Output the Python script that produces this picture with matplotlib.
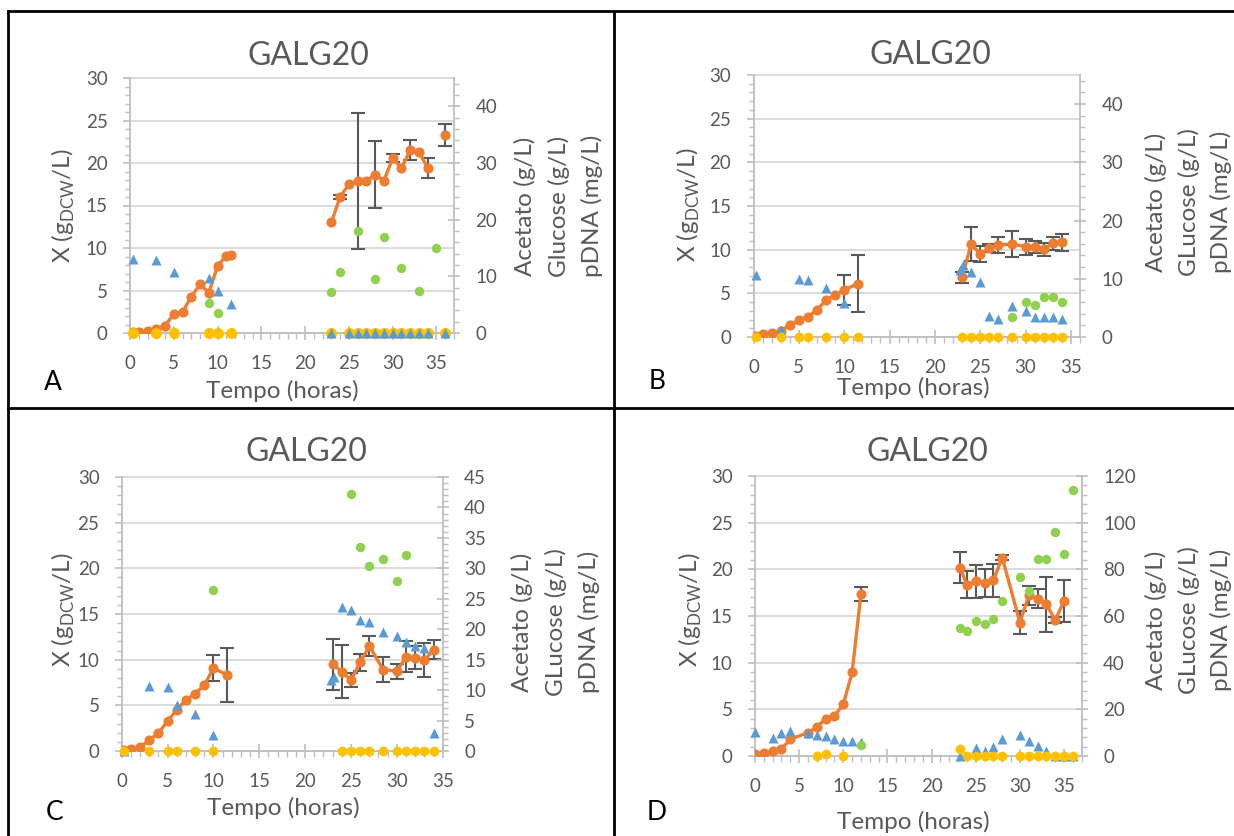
import matplotlib
matplotlib.use("Agg")
import matplotlib.pyplot as plt
import numpy as np
from matplotlib.ticker import MultipleLocator
from matplotlib.lines import Line2D

plt.rcParams['font.family'] = ['Lato', 'DejaVu Sans']
plt.rcParams['mathtext.fontset'] = 'custom'
plt.rcParams['mathtext.rm'] = 'Lato'

nan = np.nan
# ---------------- Panel A ----------------
A_t_X = [0.3, 1, 2, 3, 4, 5, 6, 7, 8, 9, 10, 11, 11.5, nan,
         23, 24, 25, 26, 27, 28, 29, 30, 31, 32, 33, 34, nan, 36]
A_X = [0.1, 0.15, 0.27, 0.5, 0.86, 2.24, 2.47, 4.27, 5.72, 4.75, 7.88, 9.1, 9.18, nan,
       13.02, 16.04, 17.49, 17.88, 17.92, 18.63, 17.92, 20.59, 19.37, 21.53, 21.29, 19.41, nan, 23.33]
A_X_err = [0, 0, 0, 0, 0, 0, 0, 0, 0, 0, 0, 0, 0, 0,
           0, 0.25, 0, 8.0, 0, 3.9, 0, 0.45, 0, 1.2, 0, 1.2, 0, 1.3]
A_t_glc = [0.3, 3, 5, 9, 10, 11.5, 23, 25, 26, 27, 28, 29, 30, 31, 32, 33, 34, 36]
A_glc = [13.06, 12.88, 10.76, 9.64, 7.47, 5.06, 0, 0, 0, 0, 0, 0, 0, 0, 0, 0, 0, 0]
A_t_pdna = [9, 10, 23, 24, 26, 28, 29, 31, 33, 35]
A_pdna = [5.35, 3.47, 7.29, 10.76, 17.94, 9.59, 16.94, 11.53, 7.41, 15.0]
A_t_ac = [0.3, 3, 5, 9, 10, 11.5, 23, 25, 26, 27, 28, 29, 30, 31, 32, 33, 34, 36]
A_ac = [0] * 18

# ---------------- Panel B ----------------
B_t_X = [0.3, 1, 2, 3, 4, 5, 6, 7, 8, 9, 10, 11.5, nan,
         23, 24, 25, 26, 27, 28.5, 30, 31, 32, 33, 34]
B_X = [0.15, 0.34, 0.42, 0.73, 1.34, 1.91, 2.33, 3.09, 4.24, 4.77, 5.38, 6.11, nan,
       6.83, 10.65, 9.5, 10.15, 10.53, 10.65, 10.34, 10.34, 10.04, 10.73, 10.84]
B_X_err = [0, 0, 0, 0, 0, 0, 0, 0, 0, 0, 1.7, 3.25, 0,
           0.6, 2.0, 0.95, 0.45, 0.9, 1.45, 0.9, 0.7, 0.75, 0.75, 1.0]
B_t_glc = [0.3, 3, 5, 6, 8, 10, 22.8, 23.1, 24, 25, 26, 27, 28.5, 30, 31, 32, 33, 34]
B_glc = [10.65, 1.2, 9.96, 9.79, 8.47, 5.78, 11.5, 12.3, 11.2, 9.5, 3.6, 3.04, 5.38, 4.52, 3.49, 3.49, 3.38, 3.15]
B_t_pdna = [28.5, 30, 31, 32, 33, 34]
B_pdna = [3.38, 6.07, 5.5, 6.93, 6.93, 5.95]
B_t_ac = [0.3, 3, 5, 6, 8, 10, 11.5, 23, 24, 25, 26, 27, 28.5, 30, 31, 32, 33, 34]
B_ac = [0] * 18

# ---------------- Panel C ----------------
C_t_X = [0.3, 1, 2, 3, 4, 5, 6, 7, 8, 9, 10, 11.5, nan,
         23, 24, 25, 26, 27, 28.5, 30, 31, 32, 33, 34]
C_X = [0.08, 0.22, 0.44, 1.17, 1.97, 3.25, 4.53, 5.55, 6.28, 7.2, 9.06, 8.33, nan,
       9.5, 8.69, 7.74, 9.71, 11.5, 8.91, 8.73, 10.3, 10.23, 9.93, 11.1]
C_X_err = [0, 0, 0, 0, 0, 0, 0, 0, 0, 0, 1.45, 3.0, 0,
           2.8, 2.9, 0.75, 0.9, 1.06, 1.37, 0.8, 1.7, 1.3, 1.86, 1.06]
C_t_glc = [0.3, 3, 5, 6, 8, 10, 22.8, 23.1, 24, 25, 26, 27, 28.5, 30, 31, 32, 33, 34]
C_glc = [0, 10.62, 10.5, 7.5, 6.03, 2.58, 11.6, 12.2, 23.65, 23.16, 21.46, 21.13, 19.49, 18.83, 17.85, 17.24, 16.91, 2.96]
C_t_pdna = [10, 25, 26, 27, 28.5, 30, 31]
C_pdna = [26.4, 42.15, 33.5, 30.33, 31.48, 27.87, 32.13]
C_t_ac = [0.3, 3, 5, 6, 8, 10, 24, 25, 26, 27, 28.5, 30, 31, 32, 33, 34]
C_ac = [0] * 16

# ---------------- Panel D ----------------
D_t_X = [0, 1, 2, 3, 4, 6, 7, 8, 9, 10, 11, 12, nan,
         23.2, 24, 25, 26, 27, 28, 30, 31, 32, 33, 34, 35]
D_X = [0.25, 0.3, 0.55, 0.75, 1.8, 2.5, 3.1, 4.0, 4.3, 5.55, 8.95, 17.4, nan,
       20.19, 18.37, 18.72, 18.58, 18.83, 21.26, 14.3, 17.2, 16.87, 16.26, 14.54, 16.61]
D_X_err = [0, 0, 0, 0, 0, 0, 0, 0, 0, 0, 0, 0.75, 0,
           1.7, 1.45, 1.77, 1.5, 1.75, 0.25, 1.25, 1.0, 1.0, 2.95, 0.3, 2.3]
D_t_glc = [0, 2, 3, 4, 6, 7, 8, 9, 10, 11, 12, 23.2, 25, 26, 27, 28, 30, 31, 32, 33, 34, 35, 36]
D_glc = [10.3, 7.9, 9.86, 10.7, 9.86, 8.87, 8.44, 7.16, 6.3, 6.3, 6.0, 0, 3.6, 2.0, 3.86, 7.16, 8.87, 6.3, 4.16, 2.0, 0, 0, 0]
D_t_pdna = [12, 23.2, 24, 25, 26, 27, 28, 30, 31, 32, 33, 34, 35, 36]
D_pdna = [4.6, 55.0, 53.4, 57.7, 56.4, 58.6, 66.3, 76.6, 70.6, 84.4, 84.3, 96.0, 86.6, 114.2]
D_t_ac = [7, 8, 10, 23.2, 24, 25, 26, 27, 28, 30, 31, 32, 33, 34, 35, 36]
D_ac = [0, 0.7, 0, 2.9, 0, 0, 0, 0, 0, 0, 0, 0, 0, 0, 0, 0]

TITLE = "GALG20"
XLABEL = "Tempo (horas)"
YLABEL = r"X (g$_{\mathregular{DCW}}$/L)"

W, H = 1234, 836
fig = plt.figure(figsize=(W / 100, H / 100), dpi=100)

ORANGE = '#ED7D31'
BLUE = '#5B9BD5'
GREEN = '#92D050'
YELLOW = '#FFC000'
GRID = '#D9D9D9'
AXC = '#BFBFBF'
TXT = '#595959'


def fx(x):
    return x / W


def fy(y):
    return 1 - y / H


def panel(rect_px, xmax, y2max, y2maj, y2min, tX, X, Xerr, tG, G, tP, P, tAc, Ac,
          blue_top, ac_ms, labels):
    l, r, t, b = rect_px
    ax = fig.add_axes([fx(l), fy(b), (r - l) / W, (b - t) / H])
    ax.set_xlim(0, xmax)
    ax.set_ylim(0, 30)
    ax.set_xticks(range(0, 36, 5))
    ax.xaxis.set_minor_locator(MultipleLocator(1))
    ax.set_yticks(range(0, 31, 5))
    ax.yaxis.set_minor_locator(MultipleLocator(1))
    for s in ['top', 'right']:
        ax.spines[s].set_visible(False)
    for s in ['left', 'bottom']:
        ax.spines[s].set_color(AXC)
        ax.spines[s].set_linewidth(1.3)
    ax.grid(axis='y', which='major', color=GRID, lw=1.3)
    ax.set_axisbelow(True)
    for gl in ax.get_ygridlines():
        gl.set_clip_on(False)
    ax.tick_params(axis='y', which='major', direction='out', length=5, width=1.2,
                   color=AXC, labelcolor=TXT, labelsize=13.5, pad=11)
    ax.tick_params(axis='y', which='minor', direction='out', length=3.5, width=1.0, color=AXC)
    ax.tick_params(axis='x', which='major', direction='inout', length=10, width=1.2,
                   color=AXC, labelcolor=TXT, labelsize=13.5, pad=11)
    ax.tick_params(axis='x', which='minor', direction='out', length=4, width=1.0, color=AXC)

    tX = np.array(tX, float)
    X = np.array(X, float)
    Xerr = np.array(Xerr, float)
    m = Xerr > 0
    ax.errorbar(tX[m], X[m], yerr=Xerr[m], fmt='none', ecolor='#595959',
                elinewidth=1.5, capsize=5, capthick=1.5, zorder=2)
    ax.plot(tX, X, color=ORANGE, lw=2.4, marker='o', ms=6.3, zorder=3)

    ax2 = ax.twinx()
    ax2.set_ylim(0, y2max)
    ax2.set_xlim(0, xmax)
    ax2.set_yticks(np.arange(0, y2max + 0.1, y2maj))
    ax2.yaxis.set_minor_locator(MultipleLocator(y2min))
    for s in ['top', 'left', 'bottom']:
        ax2.spines[s].set_visible(False)
    ax2.spines['right'].set_color(AXC)
    ax2.spines['right'].set_linewidth(1.3)
    ax2.tick_params(axis='y', which='major', direction='inout', length=9, width=1.2,
                    color=AXC, labelcolor=TXT, labelsize=13.5, pad=11)
    ax2.tick_params(axis='y', which='minor', direction='out', length=3.5, width=1.0, color=AXC)

    zb, zy = (5, 4) if blue_top else (4, 5)
    ax2.plot(tG, G, ls='none', marker='^', ms=7.8, color=BLUE, mec='none', zorder=zb, clip_on=False)
    ax2.plot(tAc, Ac, ls='none', marker='o', ms=ac_ms, color=YELLOW, mec='none', zorder=zy, clip_on=False)
    ax2.plot(tP, P, ls='none', marker='o', ms=6.8, color=GREEN, mec='none', zorder=6, clip_on=False)

    # texts
    (tx, ty), (xx, xy), (lx, ly), (rx, ry, glabel), (letter, ltx, lty) = labels
    fig.text(fx(tx), fy(ty), TITLE, ha='center', va='center', fontsize=23, color=TXT)
    fig.text(fx(xx), fy(xy), XLABEL, ha='center', va='center', fontsize=17.5, color=TXT)
    fig.text(fx(lx), fy(ly), YLABEL, ha='center', va='center', fontsize=17.5, color=TXT, rotation=90)
    for dx, s in zip(rx, ["Acetato (g/L)", glabel, "pDNA (mg/L)"]):
        fig.text(fx(dx), fy(ry), s, ha='center', va='center', fontsize=17.5, color=TXT, rotation=90)
    fig.text(fx(ltx), fy(lty), letter, ha='center', va='center', fontsize=19, color='black')


panel((130, 454, 78, 333), 37, 45, 10, 2, A_t_X, A_X, A_X_err, A_t_glc, A_glc,
      A_t_pdna, A_pdna, A_t_ac, A_ac, True, 8.0,
      ((308, 56), (282, 391), (63, 206), ((525, 559, 592), 206, "Glucose (g/L)"), ("A", 53, 383)))
panel((753.5, 1080, 75, 337), 36, 45, 10, 2, B_t_X, B_X, B_X_err, B_t_glc, B_glc,
      B_t_pdna, B_pdna, B_t_ac, B_ac, False, 7.0,
      ((930, 55), (913, 388), (688, 205), ((1156, 1189, 1221), 202, "GLucose (g/L)"), ("B", 657, 381)))
panel((121.7, 442.7, 477, 751), 35, 45, 5, 1, C_t_X, C_X, C_X_err, C_t_glc, C_glc,
      C_t_pdna, C_pdna, C_t_ac, C_ac, False, 7.0,
      ((306, 452), (283, 808), (63, 610), ((522, 556, 589), 622, "GLucose (g/L)"), ("C", 55, 813)))
panel((755, 1081.7, 476, 756), 37, 120, 20, 4, D_t_X, D_X, D_X_err, D_t_glc, D_glc,
      D_t_pdna, D_pdna, D_t_ac, D_ac, False, 7.0,
      ((927, 452), (913, 822), (690, 610), ((1156, 1189, 1221), 620, "GLucose (g/L)"), ("D", 657, 813)))

# panel borders
for (x0, y0, x1, y1) in [(8, 11, W, 11), (8, 11, 8, H), (8, 408, W, 408), (614, 11, 614, H)]:
    fig.add_artist(Line2D([fx(x0), fx(x1)], [fy(y0), fy(y1)], color='black', lw=2.0,
                          transform=fig.transFigure))

fig.savefig("out.png", dpi=100, facecolor='white')
